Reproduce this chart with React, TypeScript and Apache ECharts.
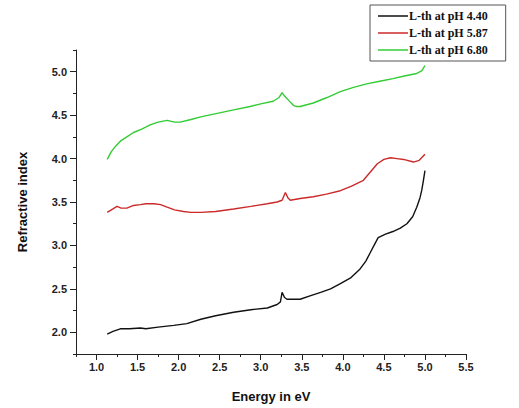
import React, { useEffect, useRef } from "react";
import * as echarts from "echarts";

const seriesNames = ["L-th at pH 4.40", "L-th at pH 5.87", "L-th at pH 6.80"];

const blackData: [number, number][] = [
  [1.13, 1.98], [1.2, 2.01], [1.29, 2.04], [1.4, 2.04], [1.535, 2.05], [1.6, 2.04], [1.75, 2.06],
  [1.94, 2.08], [2.1, 2.1], [2.27, 2.15], [2.45, 2.19], [2.67, 2.23], [2.88, 2.26], [3.08, 2.28],
  [3.2, 2.32], [3.24, 2.35], [3.26, 2.46], [3.29, 2.4], [3.32, 2.38], [3.48, 2.38], [3.6, 2.42],
  [3.73, 2.46], [3.85, 2.5], [3.97, 2.56], [4.1, 2.63], [4.21, 2.73], [4.28, 2.82], [4.33, 2.91],
  [4.38, 3.0], [4.43, 3.09], [4.52, 3.13], [4.61, 3.16], [4.7, 3.2], [4.78, 3.25], [4.85, 3.33],
  [4.9, 3.44], [4.94, 3.55], [4.96, 3.63], [4.98, 3.74], [5.0, 3.86],
];

const redData: [number, number][] = [
  [1.13, 3.38], [1.2, 3.42], [1.25, 3.45], [1.3, 3.43], [1.37, 3.43], [1.45, 3.46], [1.535, 3.47],
  [1.6, 3.48], [1.7, 3.48], [1.78, 3.47], [1.86, 3.44], [1.95, 3.41], [2.06, 3.39], [2.15, 3.38],
  [2.27, 3.38], [2.45, 3.39], [2.67, 3.42], [2.88, 3.45], [3.08, 3.48], [3.2, 3.5], [3.26, 3.52],
  [3.3, 3.61], [3.33, 3.55], [3.36, 3.52], [3.48, 3.54], [3.64, 3.56], [3.8, 3.59], [3.97, 3.63],
  [4.1, 3.68], [4.25, 3.75], [4.33, 3.84], [4.42, 3.94], [4.5, 3.99], [4.58, 4.01], [4.66, 4.0],
  [4.74, 3.99], [4.86, 3.96], [4.93, 3.98], [5.0, 4.05],
];

const greenData: [number, number][] = [
  [1.13, 3.99], [1.18, 4.08], [1.23, 4.14], [1.29, 4.2], [1.37, 4.25], [1.45, 4.3], [1.55, 4.34],
  [1.66, 4.39], [1.75, 4.42], [1.86, 4.44], [1.95, 4.42], [2.02, 4.42], [2.15, 4.45], [2.27, 4.48],
  [2.37, 4.5], [2.47, 4.52], [2.67, 4.56], [2.87, 4.6], [3.0, 4.63], [3.15, 4.66], [3.22, 4.7],
  [3.26, 4.76], [3.29, 4.72], [3.34, 4.67], [3.4, 4.61], [3.44, 4.6], [3.48, 4.6], [3.56, 4.62],
  [3.64, 4.64], [3.8, 4.7], [3.97, 4.77], [4.13, 4.82], [4.29, 4.86], [4.45, 4.89], [4.61, 4.92],
  [4.75, 4.95], [4.9, 4.98], [4.96, 5.01], [5.0, 5.07],
];

const xMajorTicks = [1.0, 1.5, 2.0, 2.5, 3.0, 3.5, 4.0, 4.5, 5.0, 5.5];
const yMajorTicks = [2.0, 2.5, 3.0, 3.5, 4.0, 4.5, 5.0];

const colors = ["#111111", "#cc2a2a", "#33cc33"];

export default function App() {
  const ref = useRef<HTMLDivElement>(null);
  useEffect(() => {
    if (!ref.current) return;
    const chart = echarts.init(ref.current, null, { renderer: "svg" });
    const labelFont = {
      fontFamily: "Liberation Sans",
      fontWeight: "bold" as const,
      fontSize: 11,
      color: "#222",
    };
    const axisLine = { show: true, lineStyle: { color: "#222", width: 1 } };
    chart.setOption({
      animation: false,
      backgroundColor: "#fff",
      grid: { left: 76, top: 50, right: 53, bottom: 50, containLabel: false },
      legend: {
        data: seriesNames.map((n) => ({ name: n, icon: "path://M0,0H30V1.5H0Z" })),
        orient: "vertical",
        left: 370,
        top: 5,
        padding: [5, 18, 5, 8],
        itemWidth: 30,
        itemHeight: 11,
        itemGap: 5,
        symbolKeepAspect: true,
        backgroundColor: "#fff",
        borderColor: "#555",
        borderWidth: 1,
        textStyle: {
          fontFamily: "Liberation Serif",
          fontWeight: "bold",
          fontSize: 12,
          color: "#111",
          padding: [0, 0, 0, -4],
        },
      },
      xAxis: [
        {
          type: "value",
          min: 0.75,
          max: 5.5,
          interval: 0.25,
          position: "bottom",
          axisLine,
          splitLine: { show: false },
          axisTick: { show: true, length: 3, inside: false, lineStyle: { color: "#222" } },
          axisLabel: { show: false },
          name: "Energy in eV",
          nameLocation: "middle",
          nameGap: 36,
          nameTextStyle: { fontFamily: "Liberation Sans", fontWeight: "bold", fontSize: 13, color: "#111" },
        },
        {
          type: "value",
          min: 0.75,
          max: 5.5,
          position: "bottom",
          axisLine: { show: false },
          splitLine: { show: false },
          axisTick: { show: true, length: 6, customValues: xMajorTicks, lineStyle: { color: "#222" } },
          axisLabel: {
            ...labelFont,
            margin: 7,
            customValues: xMajorTicks,
            formatter: (v: number) => v.toFixed(1),
          },
        },
      ],
      yAxis: [
        {
          type: "value",
          min: 1.75,
          max: 5.25,
          interval: 0.25,
          position: "left",
          axisLine,
          splitLine: { show: false },
          axisTick: { show: true, length: 3, lineStyle: { color: "#222" } },
          axisLabel: { show: false },
          name: "Refractive index",
          nameLocation: "middle",
          nameGap: 47,
          nameTextStyle: { fontFamily: "Liberation Sans", fontWeight: "bold", fontSize: 13, color: "#111" },
        },
        {
          type: "value",
          min: 1.75,
          max: 5.25,
          position: "left",
          axisLine: { show: false },
          splitLine: { show: false },
          axisTick: { show: true, length: 6, customValues: yMajorTicks, lineStyle: { color: "#222" } },
          axisLabel: {
            ...labelFont,
            margin: 9,
            customValues: yMajorTicks,
            formatter: (v: number) => v.toFixed(1),
          },
        },
      ],
      series: [
        { name: seriesNames[0], data: blackData },
        { name: seriesNames[1], data: redData },
        { name: seriesNames[2], data: greenData },
      ].map((s, i) => ({
        ...s,
        type: "line",
        xAxisIndex: 0,
        yAxisIndex: 0,
        symbol: "none",
        color: colors[i],
        lineStyle: { color: colors[i], width: 1.4 },
      })),
    });
    return () => chart.dispose();
  }, []);
  return <div ref={ref} style={{ width: 519, height: 408, position: "absolute", left: 0, top: 0 }} />;
}
